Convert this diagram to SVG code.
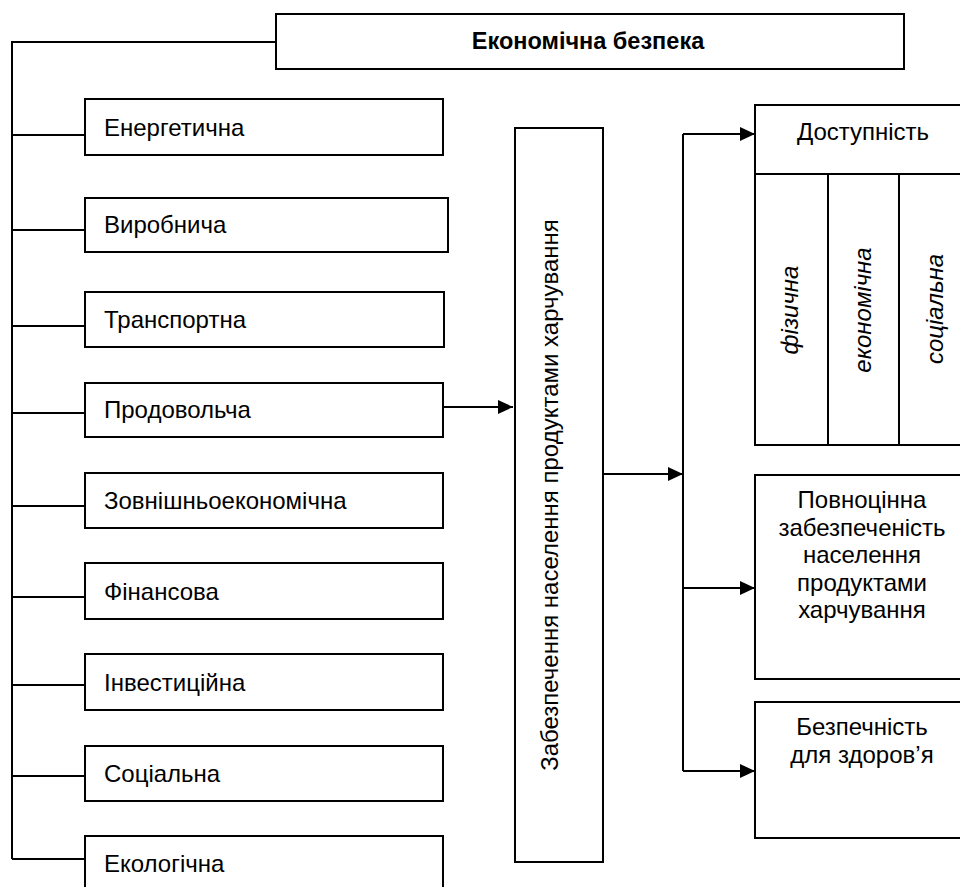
<svg xmlns="http://www.w3.org/2000/svg" width="960" height="887" viewBox="0 0 960 887">
<defs>
<marker id="arr" markerWidth="15" markerHeight="14" refX="15" refY="7" orient="auto" markerUnits="userSpaceOnUse">
<path d="M0,0 L15,7 L0,14 Z" fill="#000"/>
</marker>
<style>
.box{fill:#fff;stroke:#000;stroke-width:2}
.ln{fill:none;stroke:#000;stroke-width:2}
text{font-family:"Liberation Sans",Arial,sans-serif;font-size:24px;fill:#000}
.t{font-weight:bold;font-size:23.5px}
.c{text-anchor:middle}
.i{font-style:italic;text-anchor:middle}
</style>
</defs>
<rect width="960" height="887" fill="#fff"/>
<g id="connectors">
<path class="ln" d="M276,42 H12 V859"/>
<path class="ln" d="M12,135 H85 M12,230 H85 M12,326 H85 M12,413 H85 M12,506 H85 M12,597 H85 M12,685 H85 M12,776 H85 M12,859 H85"/>
<path class="ln" d="M443,407 H513" marker-end="url(#arr)"/>
<path class="ln" d="M603,474 H683" marker-end="url(#arr)"/>
<path class="ln" d="M683,134 V771"/>
<path class="ln" d="M683,134 H755" marker-end="url(#arr)"/>
<path class="ln" d="M683,588 H755" marker-end="url(#arr)"/>
<path class="ln" d="M683,771 H755" marker-end="url(#arr)"/>
</g>
<g id="economic-security">
<rect class="box" x="276" y="14" width="628" height="55"/>
<text class="t c" x="588" y="49">Економічна безпека</text>
</g>
<g id="energy"><rect class="box" x="85" y="99" width="358" height="56"/><text x="104" y="136">Енергетична</text></g>
<g id="production"><rect class="box" x="85" y="198" width="363" height="54"/><text x="104" y="233">Виробнича</text></g>
<g id="transport"><rect class="box" x="85" y="292" width="359" height="55"/><text x="104" y="328">Транспортна</text></g>
<g id="food"><rect class="box" x="85" y="383" width="358" height="54"/><text x="104" y="418">Продовольча</text></g>
<g id="foreign-economic"><rect class="box" x="85" y="473" width="358" height="55"/><text x="104" y="509">Зовнішньоекономічна</text></g>
<g id="financial"><rect class="box" x="85" y="563" width="358" height="56"/><text x="104" y="600">Фінансова</text></g>
<g id="investment"><rect class="box" x="85" y="654" width="358" height="56"/><text x="104" y="691">Інвестиційна</text></g>
<g id="social"><rect class="box" x="85" y="746" width="358" height="55"/><text x="104" y="782">Соціальна</text></g>
<g id="ecological"><rect class="box" x="85" y="836" width="358" height="60"/><text x="104" y="872">Екологічна</text></g>
<g id="food-supply">
<rect class="box" x="515" y="128" width="88" height="734"/>
<text class="c" transform="translate(558,495) rotate(-90)">Забезпечення населення продуктами харчування</text>
</g>
<g id="accessibility">
<rect class="box" x="755" y="105" width="216" height="340"/>
<path class="ln" d="M755,174 H971 M828,174 V445 M899,174 V445"/>
<text class="c" x="863" y="140">Доступність</text>
<text class="i" transform="translate(798,310) rotate(-90)">фізична</text>
<text class="i" transform="translate(871,310) rotate(-90)">економічна</text>
<text class="i" transform="translate(943,309) rotate(-90)">соціальна</text>
</g>
<g id="full-provision">
<rect class="box" x="755" y="475" width="216" height="204"/>
<text class="c" x="862" y="508">Повноцінна</text>
<text class="c" x="862" y="536">забезпеченість</text>
<text class="c" x="862" y="563">населення</text>
<text class="c" x="862" y="591">продуктами</text>
<text class="c" x="862" y="618">харчування</text>
</g>
<g id="health-safety">
<rect class="box" x="755" y="702" width="216" height="136"/>
<text class="c" x="862" y="735">Безпечність</text>
<text class="c" x="862" y="763">для здоров’я</text>
</g>
</svg>
